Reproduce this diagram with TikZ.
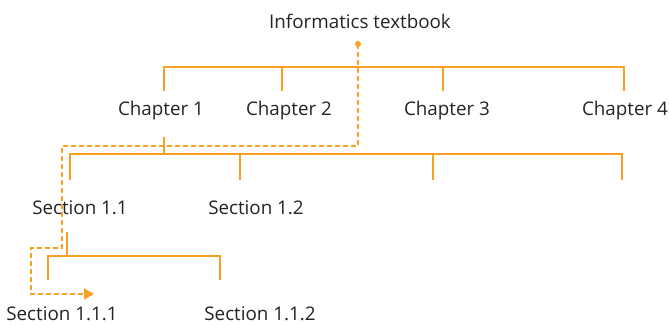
\documentclass[tikz,border=0pt]{standalone}
\usepackage{fontspec}
\setmainfont{Open Sans}
\usetikzlibrary{arrows.meta}
\definecolor{org}{RGB}{247,160,35}
\definecolor{txt}{RGB}{35,35,35}
\begin{document}
\begin{tikzpicture}[x=1pt,y=-1pt,
  lbl/.style={text=txt,font=\fontsize{18.8}{22}\selectfont,inner sep=0pt},
  tree/.style={draw=org,line width=2pt},
  dashline/.style={draw=org,line width=1.7pt,dash pattern=on 5pt off 3pt}]
\useasboundingbox (0,0) rectangle (669,324);
\node[lbl] (book) at (360,21) {Informatics textbook};
\node[lbl] (c1) at (161,111) {Chapter 1};
\node[lbl] (c2) at (289,111) {Chapter 2};
\node[lbl] (c3) at (447,111) {Chapter 3};
\node[lbl] (c4) at (625,111) {Chapter 4};
\node[lbl] (s11) at (80,208) {Section 1.1};
\node[lbl] (s12) at (256,208) {Section 1.2};
\node[lbl] (s111) at (62,314) {Section 1.1.1};
\node[lbl] (s112) at (260,314) {Section 1.1.2};
% chapter bar
\draw[tree] (164,91) -- (164,67) -- (624,67) -- (624,91);
\draw[tree] (282,67) -- (282,91);
\draw[tree] (443,67) -- (443,91);
% section bar
\draw[tree] (164,137) -- (164,154);
\draw[tree] (70,180) -- (70,154) -- (622,154) -- (622,180);
\draw[tree] (240,154) -- (240,180);
\draw[tree] (433,154) -- (433,180);
% subsection bar
\draw[tree] (67,232) -- (67,256);
\draw[tree] (48,280) -- (48,256) -- (220,256) -- (220,280);
% dashed path
\coordinate (dot) at (358,44);
\coordinate (tip) at (94,294);
\fill[org] (dot) circle (3pt);
\draw[dashline,-{Triangle[length=10pt,width=11pt]}] (dot) -- (358,146) -- (62,146) -- (62,248) -- (31,248) -- (31,294) -- (tip);
\end{tikzpicture}
\end{document}
